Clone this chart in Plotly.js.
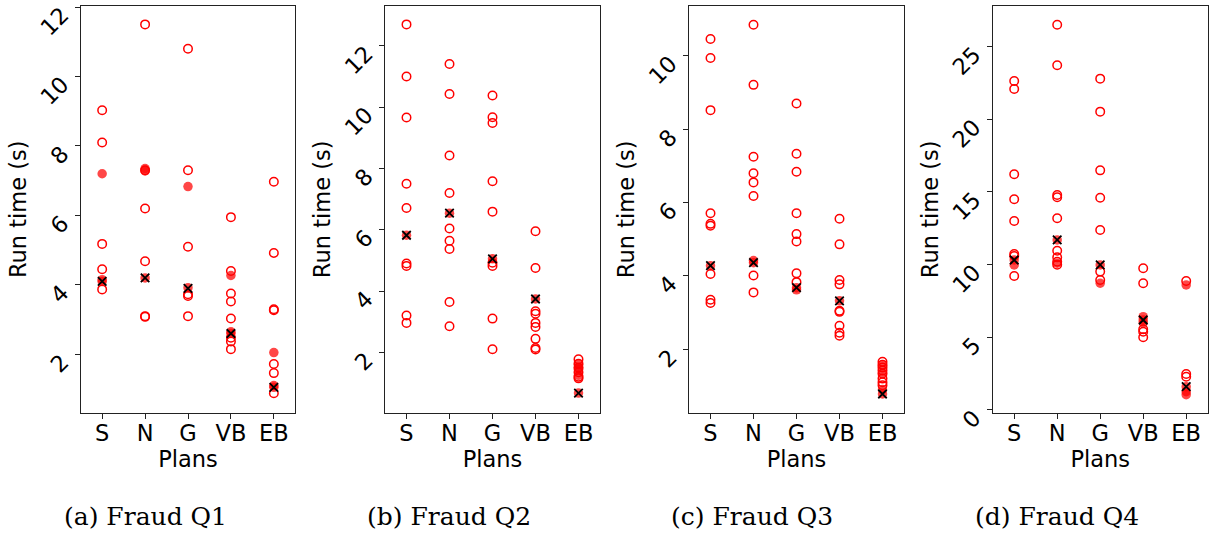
<!DOCTYPE html>
<html>
<head>
<meta charset="utf-8">
<script src="https://cdn.plot.ly/plotly-3.0.1.min.js"></script>
<style>html,body{margin:0;padding:0;background:#fff;}#chart{width:1211px;height:533px;}</style>
</head>
<body>
<div id="chart"></div>
<script>
// Categories (plans)
const plans = ["S", "N", "G", "VB", "EB"];
const captions = ["(a) Fraud Q1", "(b) Fraud Q2", "(c) Fraud Q3", "(d) Fraud Q4"];

// Run times (s) per plan: [S, N, G, VB, EB]
// Q1
const q1Open = [
  [9.03, 8.1, 5.18, 4.45, 3.87],
  [11.5, 7.3, 6.2, 4.68, 3.1, 3.08],
  [10.8, 7.3, 5.1, 3.73, 3.68, 3.1],
  [5.95, 4.4, 3.75, 3.52, 3.03, 2.48, 2.37, 2.15],
  [6.97, 4.92, 3.3, 3.27, 1.72, 1.46, 0.88]
];
const q1Filled = [[7.2, 4.15, 4.1], [7.35, 7.28, 4.2], [6.83, 3.92], [4.27, 2.65, 2.6], [2.05, 1.1, 1.05]];
const q1Chosen = [4.1, 4.2, 3.9, 2.6, 1.05];

// Q2
const q2Open = [
  [12.7, 11.0, 9.66, 7.5, 6.71, 4.9, 4.82, 3.2, 2.96],
  [11.41, 10.43, 8.42, 7.2, 6.04, 5.64, 5.37, 3.64, 2.85],
  [10.38, 9.67, 9.48, 7.58, 6.59, 4.92, 4.82, 3.1, 2.1],
  [5.95, 4.75, 3.34, 3.26, 2.96, 2.83, 2.44, 2.14, 2.09],
  [1.77, 1.63, 1.5, 1.35, 1.2, 1.15]
];
const q2Filled = [[5.82], [6.54], [5.05], [3.74], [1.6, 1.5, 1.45, 1.25, 0.67]];
const q2Chosen = [5.82, 6.54, 5.05, 3.74, 0.67];

// Q3
const q3Open = [
  [10.46, 9.94, 8.52, 5.71, 5.42, 5.37, 4.05, 3.35, 3.26],
  [10.85, 9.21, 7.25, 6.8, 6.55, 6.18, 4.01, 3.55],
  [8.7, 7.33, 6.84, 5.71, 5.14, 4.94, 4.07, 3.83],
  [5.56, 4.86, 3.89, 3.77, 3.05, 3.02, 2.64, 2.45, 2.37],
  [1.66, 1.58, 1.5, 1.42, 1.33, 1.2, 1.1, 1.02]
];
const q3Filled = [[4.28], [4.42, 4.36], [3.68, 3.62], [3.32], [1.55, 1.35, 0.9, 0.78]];
const q3Chosen = [4.28, 4.36, 3.68, 3.32, 0.78];

// Q4
const q4Open = [
  [22.64, 22.09, 16.22, 14.5, 13.0, 10.73, 10.6, 9.22],
  [26.51, 23.72, 14.79, 14.64, 13.19, 10.96, 10.5, 10.2, 10.0],
  [22.8, 20.53, 16.49, 14.6, 12.38, 9.52, 8.94],
  [9.75, 8.72, 5.55, 5.38, 5.0],
  [8.87, 2.47, 2.29]
];
const q4Filled = [[10.32, 9.98], [11.7, 10.1], [9.98, 8.72], [6.42, 6.19, 6.0], [8.6, 1.6, 1.26, 1.05]];
const q4Chosen = [10.32, 11.7, 9.98, 6.19, 1.6];

const yTicks = [[2, 4, 6, 8, 10, 12], [2, 4, 6, 8, 10, 12], [2, 4, 6, 8, 10], [0, 5, 10, 15, 20, 25]];
const yRanges = [[0.32, 12.03], [0.03, 13.3], [0.27, 11.36], [-0.19, 27.8]];

const openSets = [q1Open, q2Open, q3Open, q4Open];
const filledSets = [q1Filled, q2Filled, q3Filled, q4Filled];
const chosenSets = [q1Chosen, q2Chosen, q3Chosen, q4Chosen];

const W = 1211, H = 533;
const pxX = [[80.7, 295.3], [385, 600], [689, 904], [992.7, 1207.7]];
const pxTop = 6, pxBottom = 412.7;
const capX = [145, 449, 752, 1057];
const FS = 22.5;

function flatten(sets) {
  const xs = [], ys = [];
  sets.forEach((vals, i) => vals.forEach(v => { xs.push(plans[i]); ys.push(v); }));
  return {xs, ys};
}

const traces = [];
const layout = {
  width: W, height: H,
  margin: {l: 0, r: 0, t: 0, b: 0},
  paper_bgcolor: "#fff", plot_bgcolor: "#fff",
  showlegend: false,
  font: {family: "DejaVu Sans", size: FS, color: "#000"},
  annotations: []
};

for (let p = 0; p < 4; p++) {
  const ax = p === 0 ? "" : String(p + 1);
  const o = flatten(openSets[p]);
  const f = flatten(filledSets[p]);
  traces.push({
    type: "scatter", mode: "markers", x: o.xs, y: o.ys,
    xaxis: "x" + ax, yaxis: "y" + ax, hoverinfo: "skip",
    marker: {symbol: "circle-open", size: 8.5, color: "#ff0000", line: {width: 1.5, color: "#ff0000"}}
  });
  traces.push({
    type: "scatter", mode: "markers", x: f.xs, y: f.ys,
    xaxis: "x" + ax, yaxis: "y" + ax, hoverinfo: "skip",
    marker: {symbol: "circle", size: 9.5, color: "rgba(255,0,0,0.72)", line: {width: 0}}
  });
  traces.push({
    type: "scatter", mode: "markers", x: plans, y: chosenSets[p],
    xaxis: "x" + ax, yaxis: "y" + ax, hoverinfo: "skip",
    marker: {symbol: "x-thin-open", size: 8.5, color: "#000", line: {width: 1.8, color: "#000"}}
  });

  layout["xaxis" + ax] = {
    domain: [pxX[p][0] / W, pxX[p][1] / W],
    anchor: "y" + ax,
    type: "category",
    categoryorder: "array", categoryarray: plans,
    range: [-0.5, 4.5],
    showline: true, mirror: true, linecolor: "#222", linewidth: 1,
    ticks: "outside", ticklen: 5, tickwidth: 1, tickcolor: "#222",
    ticklabelstandoff: -5,
    showgrid: false, zeroline: false,
    tickfont: {family: "DejaVu Sans", size: FS, color: "#000"},
    title: {text: "Plans", font: {family: "DejaVu Sans", size: FS, color: "#000"}, standoff: 2}
  };
  layout["yaxis" + ax] = {
    domain: [(H - pxBottom) / H, (H - pxTop) / H],
    anchor: "x" + ax,
    range: yRanges[p],
    tickvals: yTicks[p],
    ticktext: yTicks[p].map(String),
    tickangle: -45,
    ticklabelstandoff: 8,
    ticklabelshift: 5,
    ticklabeloverflow: "allow",
    showline: true, mirror: true, linecolor: "#222", linewidth: 1,
    ticks: "outside", ticklen: 5, tickwidth: 1, tickcolor: "#222",
    showgrid: false, zeroline: false,
    tickfont: {family: "DejaVu Sans", size: FS, color: "#000"},
    title: {text: "Run time (s)", font: {family: "DejaVu Sans", size: FS, color: "#000"}, standoff: 2}
  };
  layout.annotations.push({
    xref: "paper", yref: "paper", x: capX[p] / W, y: (H - 516) / H,
    xanchor: "center", yanchor: "middle", showarrow: false,
    text: captions[p],
    font: {family: "DejaVu Serif", size: 25, color: "#000"}
  });
}

Plotly.newPlot("chart", traces, layout, {displayModeBar: false, staticPlot: true});
</script>
</body>
</html>
